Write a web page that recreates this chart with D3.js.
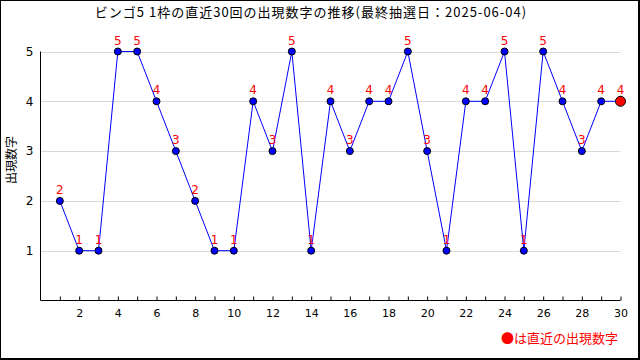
<!DOCTYPE html>
<html lang="ja">
<head>
<meta charset="UTF-8">
<title>ビンゴ5 1枠</title>
<script src="https://cdn.jsdelivr.net/npm/d3@7"></script>
<style>
  body { margin: 0; background: #fff; }
  text { font-family: "Noto Sans CJK JP", "DejaVu Sans", sans-serif; }
</style>
</head>
<body>
<script>
var width = 640;
var height = 360;

// 直近30回の出現数字（1枠）
var draws = [1, 2, 3, 4, 5, 6, 7, 8, 9, 10, 11, 12, 13, 14, 15,
             16, 17, 18, 19, 20, 21, 22, 23, 24, 25, 26, 27, 28, 29, 30];
var numbers = [2, 1, 1, 5, 5, 4, 3, 2, 1, 1, 4, 3, 5, 1, 4,
               3, 4, 4, 5, 3, 1, 4, 4, 5, 1, 5, 4, 3, 4, 4];
var yTicks = [1, 2, 3, 4, 5];
var xLabels = [2, 4, 6, 8, 10, 12, 14, 16, 18, 20, 22, 24, 26, 28, 30];

var svg = d3.select('body').append('svg')
    .attr('width', width)
    .attr('height', height);

// 外枠
svg.append('rect')
    .attr('x', 0.5).attr('y', 0.5)
    .attr('width', width - 1.5).attr('height', height - 1.5)
    .attr('fill', '#fff')
    .attr('stroke', '#000')
    .attr('stroke-width', 1);
svg.append('line').attr('x1', width - 1).attr('x2', width - 1).attr('y1', 0).attr('y2', height)
    .attr('stroke', '#000').attr('stroke-width', 2);
svg.append('line').attr('x1', 0).attr('x2', width).attr('y1', height - 1).attr('y2', height - 1)
    .attr('stroke', '#000').attr('stroke-width', 2);

var x = d3.scaleLinear().domain([0, 30]).range([40.5, 620.5]);
var y = d3.scaleLinear().domain([0, 5]).range([300.5, 51.5]);

// タイトル
svg.append('text')
    .attr('x', 311).attr('y', 17)
    .attr('text-anchor', 'middle')
    .attr('font-size', 13)
    .attr('letter-spacing', 1)
    .text('ビンゴ5 1枠の直近30回の出現数字の推移(最終抽選日：2025-06-04)');

// グリッド
svg.append('g').selectAll('line')
    .data(yTicks)
    .enter().append('line')
    .attr('x1', x(0)).attr('x2', x(30))
    .attr('y1', function (d) { return Math.round(y(d)) + 0.5; })
    .attr('y2', function (d) { return Math.round(y(d)) + 0.5; })
    .attr('stroke', '#d8d8d8');

// Y軸
var yAxis = svg.append('g')
    .attr('transform', 'translate(' + x(0) + ',0)')
    .call(d3.axisLeft(y).tickValues(yTicks).tickSize(0).tickPadding(7).tickFormat(d3.format('d')));
yAxis.select('.domain').attr('stroke', '#000').attr('d', 'M0,' + y(5) + 'V' + y(0));
yAxis.selectAll('text').attr('font-size', 12).attr('fill', '#000')
    .style('font-family', '"DejaVu Sans", sans-serif');

// X軸（目盛りは内向き）
var xAxis = svg.append('g')
    .attr('transform', 'translate(0,' + y(0) + ')')
    .call(d3.axisBottom(x).tickValues(draws).tickSize(-4).tickPadding(9)
        .tickFormat(function (d) { return xLabels.indexOf(d) >= 0 ? d : ''; }));
xAxis.select('.domain').attr('stroke', '#000').attr('d', 'M' + x(0) + ',0H' + x(30));
xAxis.selectAll('line').attr('stroke', '#000');
xAxis.selectAll('text').attr('font-size', 11).attr('fill', '#000')
    .style('font-family', '"DejaVu Sans", sans-serif');

// Y軸タイトル
svg.append('text')
    .attr('transform', 'translate(16,160) rotate(-90)')
    .attr('text-anchor', 'middle')
    .attr('font-size', 12)
    .text('出現数字');

// 折れ線
var line = d3.line()
    .x(function (d, i) { return x(draws[i]); })
    .y(function (d) { return y(d); });
svg.append('path')
    .datum(numbers)
    .attr('d', line)
    .attr('fill', 'none')
    .attr('stroke', '#0000ff')
    .attr('stroke-width', 1);

// 点
svg.append('g').selectAll('circle')
    .data(numbers)
    .enter().append('circle')
    .attr('cx', function (d, i) { return x(draws[i]); })
    .attr('cy', function (d) { return y(d); })
    .attr('r', function (d, i) { return i === numbers.length - 1 ? 5 : 3.5; })
    .attr('fill', function (d, i) { return i === numbers.length - 1 ? '#ff0000' : '#0000ff'; })
    .attr('stroke', '#000')
    .attr('stroke-width', 1);

// 値ラベル
svg.append('g').selectAll('text')
    .data(numbers)
    .enter().append('text')
    .attr('x', function (d, i) { return x(draws[i]); })
    .attr('y', function (d) { return y(d) - 7; })
    .attr('text-anchor', 'middle')
    .attr('font-size', 12)
    .attr('fill', '#ff0000')
    .style('font-family', '"DejaVu Sans", sans-serif')
    .text(function (d) { return d; });

// 凡例
svg.append('text')
    .attr('x', 618).attr('y', 343)
    .attr('text-anchor', 'end')
    .attr('font-size', 13)
    .attr('fill', '#ff0000')
    .text('●は直近の出現数字');
</script>
</body>
</html>
